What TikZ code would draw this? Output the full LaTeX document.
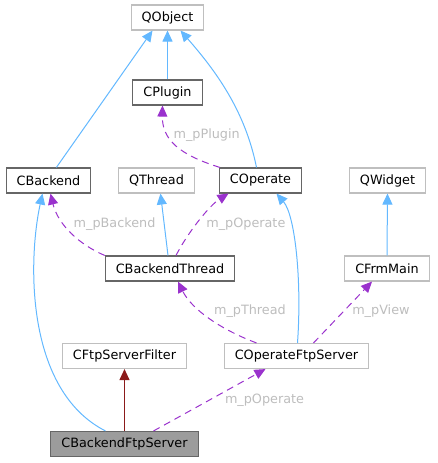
\documentclass[tikz,border=0pt]{standalone}
\usepackage{fontspec}
\setmainfont{DejaVu Sans}
\usepackage{xcolor}
\usetikzlibrary{arrows.meta,positioning}

\definecolor{inhblue}{HTML}{63B8FF}
\definecolor{usepurple}{HTML}{9A32CD}
\definecolor{privred}{HTML}{8B1A1A}
\definecolor{lightedge}{HTML}{BFBFBF}
\definecolor{darkedge}{HTML}{666666}
\definecolor{labelgrey}{HTML}{BDBDBD}

\begin{document}
\begin{tikzpicture}[
    x=1pt, y=-1pt,
    every node/.style={font=\fontsize{12.8}{15}\selectfont},
    extbox/.style={draw=lightedge, line width=1.1pt, fill=white, minimum height=25pt, inner xsep=10.5pt, inner ysep=0pt},
    clsbox/.style={extbox, draw=darkedge},
    mainbox/.style={clsbox, fill=darkedge!65},
    inherit/.style={draw=inhblue, line width=1pt, -{Triangle[length=11pt,width=10pt]}},
    usage/.style={draw=usepurple, line width=1pt, dash pattern=on 7pt off 5pt, -{Triangle[length=11pt,width=10pt]}},
    private/.style={draw=privred, line width=1pt, -{Triangle[length=11pt,width=10pt]}},
    lbl/.style={text=labelgrey, inner sep=0pt, anchor=west}
]
\useasboundingbox (0,0) rectangle (437,463);

\node[extbox] (qobject) at (167.5,17.5) {QObject};
\node[clsbox] (cplugin) at (167.5,92.5) {CPlugin};
\node[clsbox] (cbackend) at (48.5,180.5) {CBackend};
\node[extbox] (qthread) at (156.5,180.5) {QThread};
\node[clsbox] (coperate) at (260.5,180.5) {COperate};
\node[extbox] (qwidget) at (387.5,180.5) {QWidget};
\node[clsbox] (cbackendthread) at (170,268.5) {CBackendThread};
\node[extbox] (cfrmmain) at (387,268.5) {CFrmMain};
\node[extbox] (cftpfilter) at (124.5,356) {CFtpServerFilter};
\node[extbox] (coperateftp) at (296.5,356) {COperateFtpServer};
\node[mainbox] (cbackendftp) at (124.5,444) {CBackendFtpServer};

% inheritance
\draw[inherit] (cplugin.north) -- (qobject.south);
\draw[inherit] ([xshift=-35pt]cbackend.north east) -- ([xshift=-15pt]qobject.south);
\draw[inherit] ([xshift=-4pt]coperate.north) .. controls (245,110) and (215,70) .. ([xshift=13pt]qobject.south);
\draw[inherit] ([xshift=-2pt]cbackendthread.north) -- ([xshift=4pt]qthread.south);
\draw[inherit] (cfrmmain.north) -- (qwidget.south);
\draw[inherit] ([xshift=-19pt]cbackendftp.north) .. controls (25,390) and (28,260) .. ([xshift=-6pt]cbackend.south);
\draw[inherit] ([xshift=1pt]coperateftp.north) .. controls (302,280) and (295,215) .. ([xshift=16pt]coperate.south);
\draw[private] (cbackendftp.north) -- (cftpfilter.south);

% members
\draw[usage] ([xshift=1pt]coperate.north west) .. controls (180,155) and (162,140) .. ([xshift=-5pt]cplugin.south)
    node[lbl, pos=0.5, xshift=-3pt, yshift=10pt] {m\_pPlugin};
\draw[usage] (cbackendthread.north west) .. controls (80,245) and (58,225) .. ([xshift=2pt]cbackend.south)
    node[lbl, pos=0.5, xshift=2pt, yshift=8pt] {m\_pBackend};
\draw[usage] ([xshift=6pt]cbackendthread.north) .. controls (188,232) and (210,205) .. ([xshift=-32pt]coperate.south)
    node[lbl, pos=0.5, xshift=6pt, yshift=-4pt] {m\_pOperate};
\draw[usage] ([xshift=-40pt]coperateftp.north) .. controls (222,330) and (192,310) .. ([xshift=8pt]cbackendthread.south)
    node[lbl, pos=0.5, xshift=4pt, yshift=7pt] {m\_pThread};
\draw[usage] ([xshift=17pt]coperateftp.north) -- ([xshift=-15pt]cfrmmain.south)
    node[lbl, pos=0.5, xshift=9pt, yshift=1pt] {m\_pView};
\draw[usage] ([xshift=29pt]cbackendftp.north) -- ([xshift=-31pt]coperateftp.south)
    node[lbl, pos=0.5, xshift=15pt] {m\_pOperate};

\end{tikzpicture}
\end{document}
